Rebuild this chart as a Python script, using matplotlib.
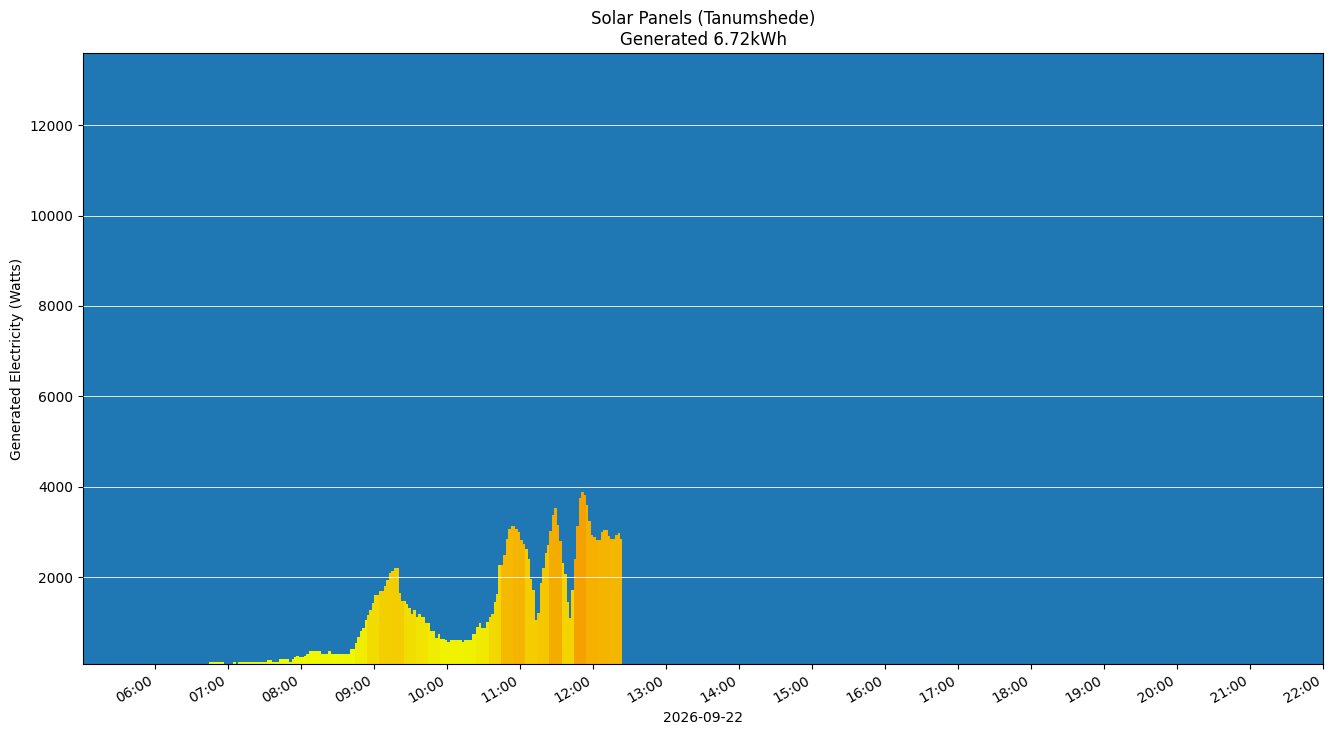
import numpy as np
import pandas as pd
import matplotlib
matplotlib.use("Agg")
import matplotlib.pyplot as plt
import matplotlib.dates as mdates
from matplotlib.colors import LinearSegmentedColormap, Normalize

day = "2026-09-22"
start_time = "06:44"   # first reading, one reading every 2 minutes
step_min = 2

# generated watts, 2-minute readings
watts = [
    110, 110, 110, 110, 110, 110, 0, 0, 0, 0,
    110, 0, 110, 110, 110, 120, 120, 120, 120, 120,
    120, 120, 120, 120, 160, 160, 125, 125, 125, 185,
    185, 185, 185, 125, 185, 230, 250, 230, 230, 250,
    300, 360, 360, 360, 360, 360, 300, 300, 300, 360,
    300, 300, 300, 300, 300, 300, 300, 300, 410, 410,
    533, 680, 812, 880, 1048, 1159, 1270, 1418, 1600, 1600,
    1697, 1697, 1800, 1933, 2100, 2132, 2199, 2199, 1646, 1469,
    1469, 1402, 1321, 1181, 1270, 1115, 1181, 1115, 1115, 989,
    989, 812, 812, 650, 739, 628, 628, 606, 562, 606,
    606, 606, 606, 606, 562, 606, 606, 606, 739, 739,
    901, 975, 871, 871, 1004, 1121, 1181, 1447, 1624, 2258,
    2258, 2479, 2848, 3061, 3128, 3128, 3068, 2995, 2818, 2730,
    2612, 2405, 1963, 1712, 1048, 1200, 1874, 2200, 2524, 2700,
    3024, 3378, 3526, 3143, 2800, 2300, 2066, 1450, 1100, 1712,
    2400, 3128, 3747, 3880, 3821, 3600, 3231, 2929, 2877, 2818,
    2818, 3002, 3039, 3039, 2900, 2833, 2833, 2936, 2980, 2840,
]
total_kwh = 6.72

times = pd.date_range(f"{day} {start_time}", periods=len(watts), freq=f"{step_min}min")
watts = np.array(watts, dtype=float)

# colour each bar by the mean of its 10 minute block
block = np.arange(len(watts)) // 5
block_mean = pd.Series(watts).groupby(block).transform("mean").values
vmax = 3700
stops = [(0, "#eeff00"), (700, "#f0f000"), (1200, "#f2e000"), (1700, "#f3d400"),
         (2200, "#f5c400"), (2700, "#f5bb00"), (3100, "#f5b000"), (3400, "#f5a200"),
         (3700, "#f59a00")]
cmap = LinearSegmentedColormap.from_list("sun", [(v / vmax, c) for v, c in stops])
norm = Normalize(vmin=0, vmax=vmax)
colors = cmap(norm(block_mean))

fig = plt.figure(figsize=(13.33, 7.36), dpi=100)
ax = fig.add_axes([0.0623, 0.0978, 0.9302, 0.8302])
ax.set_facecolor("#1f77b4")
ax.bar(times, watts, width=step_min / 1440, align="edge", color=colors, linewidth=0)

ax.set_xlim(pd.Timestamp(f"{day} 05:00:30"), pd.Timestamp(f"{day} 22:00"))
ax.set_ylim(75, 13600)
ax.xaxis.set_major_locator(mdates.HourLocator())
ax.xaxis.set_major_formatter(mdates.DateFormatter("%H:%M"))
ax.grid(axis="y", color="white", linewidth=0.6)
ax.set_axisbelow(False)
for lbl in ax.get_xticklabels():
    lbl.set_rotation(30)
    lbl.set_ha("right")

ax.set_xlabel(day)
ax.set_ylabel("Generated Electricity (Watts)")
ax.set_title(f"Solar Panels (Tanumshede)\nGenerated {total_kwh:.2f}kWh")

fig.savefig("out.png", dpi=100)
